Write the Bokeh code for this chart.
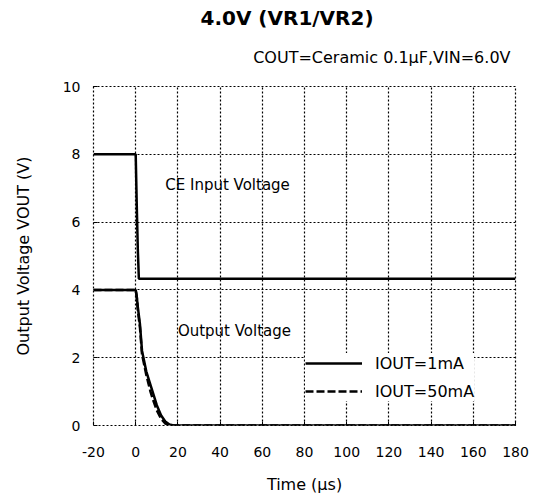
from bokeh.plotting import figure
from bokeh.models import Label, Legend, LegendItem, FixedTicker, Range1d, Title
from bokeh.embed import file_html
from bokeh.resources import INLINE

# ---- data ----
ce_t = [-20, 0, 0.5, 1.0, 1.5, 180]
ce_v = [8.0, 8.0, 6.5, 5.2, 4.33, 4.33]

out_t = [-20, 0, 0.5, 1, 2, 3, 4, 5, 6, 7, 8, 10, 12, 14, 16, 18, 20, 180]
out_1ma = [4.0, 4.0, 3.8, 3.5, 3.0, 2.2, 1.9, 1.6, 1.4, 1.2, 1.0, 0.6, 0.3, 0.12, 0.03, 0.0, 0.0, 0.0]
out_50ma = [4.0, 4.0, 3.8, 3.4, 2.9, 2.1, 1.8, 1.5, 1.25, 1.0, 0.8, 0.45, 0.2, 0.06, 0.01, 0.0, 0.0, 0.0]

x_ticks = [-20, 0, 20, 40, 60, 80, 100, 120, 140, 160, 180]
y_ticks = [0, 2, 4, 6, 8, 10]

title_text = "4.0V (VR1/VR2)"
subtitle_text = "COUT=Ceramic 0.1μF,VIN=6.0V"
legend_labels = ["IOUT=1mA", "IOUT=50mA"]

FONT = "DejaVu Sans"

p = figure(width=534, height=498, output_backend="svg", toolbar_location=None,
           x_range=Range1d(-20, 180), y_range=Range1d(0, 10),
           min_border_left=93, min_border_right=19, min_border_top=86, min_border_bottom=73,
           x_axis_label="Time (μs)", y_axis_label="Output Voltage VOUT (V)")
p.title.text = ""
p.title.standoff = 0
p.title.text_font_size = "1px"
p.background_fill_color = "white"
p.border_fill_color = "white"
p.outline_line_color = "black"
p.outline_line_dash = "2 2"
p.outline_line_width = 1.2

for g in (p.xgrid, p.ygrid):
    g.grid_line_color = "black"
    g.grid_line_dash = "2 2"
    g.grid_line_width = 1.2
p.xgrid.ticker = FixedTicker(ticks=x_ticks)
p.ygrid.ticker = FixedTicker(ticks=y_ticks)

for ax in (p.xaxis[0], p.yaxis[0]):
    ax.axis_line_color = None
    ax.major_tick_in = 4
    ax.major_tick_out = 0
    ax.minor_tick_line_color = None
    ax.major_tick_line_color = "black"
    ax.major_label_text_font = FONT
    ax.major_label_text_font_size = "14px"
    ax.major_label_text_color = "black"
    ax.axis_label_text_font = FONT
    ax.axis_label_text_font_size = "16px"
    ax.axis_label_text_font_style = "normal"
    ax.axis_label_text_color = "black"
p.xaxis.ticker = FixedTicker(ticks=x_ticks)
p.yaxis.ticker = FixedTicker(ticks=y_ticks)
p.xaxis.major_label_overrides = {-20: "-20"}
p.xaxis.major_label_standoff = 21
p.xaxis.axis_label_standoff = 15
p.yaxis.major_label_standoff = 13
p.yaxis.axis_label_standoff = 27

p.line(ce_t, ce_v, line_color="black", line_width=2.5)
r1 = p.line(out_t, out_1ma, line_color="black", line_width=2.5)
r2 = p.line(out_t, out_50ma, line_color="black", line_width=2.5, line_dash="8 3")

legend = Legend(items=[LegendItem(label=legend_labels[0], renderers=[r1]),
                       LegendItem(label=legend_labels[1], renderers=[r2])],
                location=(212, 24), background_fill_color="white", background_fill_alpha=1,
                border_line_color=None, glyph_width=57, glyph_height=20,
                label_text_font=FONT, label_text_font_size="16px", label_standoff=13,
                label_text_color="black",
                spacing=8, padding=4, margin=0)
p.add_layout(legend)

p.add_layout(Label(x=14, y=7.08, text="CE Input Voltage", text_font=FONT,
                   text_font_size="15px", text_baseline="middle", text_color="black"))
p.add_layout(Label(x=20, y=2.8, text="Output Voltage", text_font=FONT,
                   text_font_size="15px", text_baseline="middle", text_color="black"))

sub = Title(text=subtitle_text, align="right", offset=5, vertical_align="top", standoff=36,
            text_font=FONT, text_font_size="16px", text_font_style="normal",
            text_color="black")
main = Title(text=title_text, align="left", offset=107, standoff=0,
             text_font=FONT, text_font_size="20px", text_font_style="bold",
             text_color="black")
p.add_layout(sub, "above")
p.add_layout(main, "above")

open("out.html", "w").write(file_html(p, INLINE))
